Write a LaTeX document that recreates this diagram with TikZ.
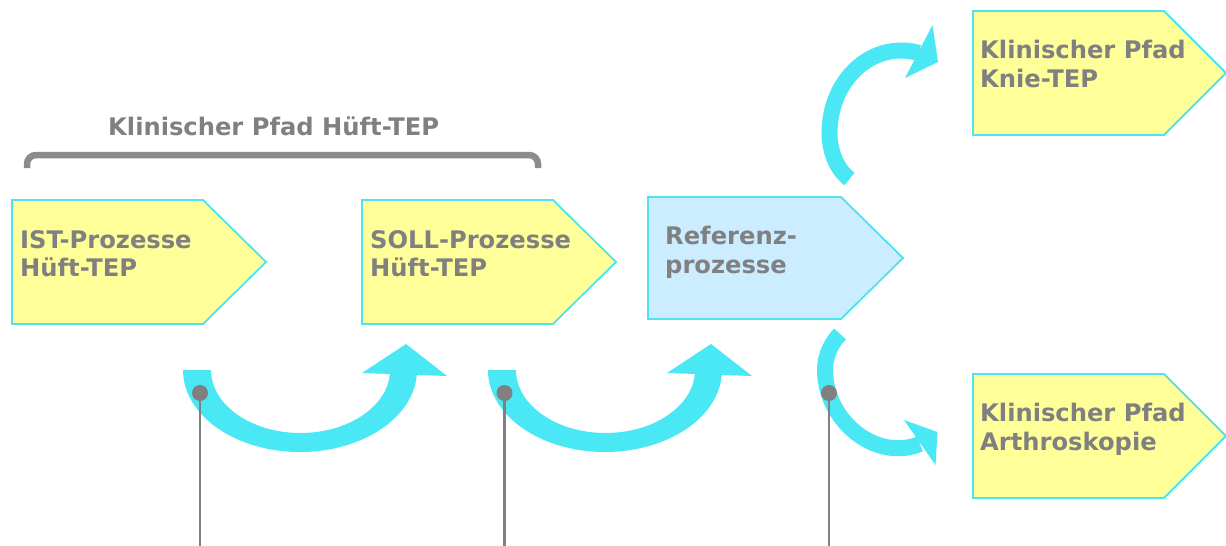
\documentclass[tikz,border=0pt]{standalone}
\usepackage{fontspec}
\setmainfont{DejaVu Sans}
\definecolor{boxline}{HTML}{4DE3F0}
\definecolor{arrowc}{HTML}{4AE8F4}
\definecolor{yel}{HTML}{FFFF99}
\definecolor{blu}{HTML}{CCECFF}
\definecolor{txt}{HTML}{808080}
\definecolor{brk}{HTML}{8C8C8C}
\begin{document}
\begin{tikzpicture}[x=1pt,y=-1pt,
  pbox/.style={draw=boxline,line width=1.8pt,line join=miter},
  lbl/.style={anchor=north west,inner sep=0pt,align=left,text=txt,font=\fontsize{24.2}{28.5}\selectfont\bfseries},
  shaft/.style={draw=arrowc,line width=16pt},
  arrowfill/.style={fill=arrowc},
  pin/.style={draw=txt,line width=2.2pt},
  dot/.style={circle,fill=txt,minimum size=16pt,inner sep=0pt}]
\useasboundingbox (0,0) rectangle (1226,546);
\fill[white] (0,0) rectangle (1226,546);

% process boxes
\path[pbox,fill=yel] (12,200) -- (203,200) -- (266,262) -- (203,324) -- (12,324) -- cycle;
\path[pbox,fill=yel] (362,200) -- (553,200) -- (616,262) -- (553,324) -- (362,324) -- cycle;
\path[pbox,fill=blu] (648,197) -- (841,197) -- (903,258) -- (841,319) -- (648,319) -- cycle;
\path[pbox,fill=yel] (973,11) -- (1164,11) -- (1226,73) -- (1164,135) -- (973,135) -- cycle;
\path[pbox,fill=yel] (973,374) -- (1164,374) -- (1226,436) -- (1164,498) -- (973,498) -- cycle;

% labels
\node[lbl] (ist) at (20,228.3) {\strut IST-Prozesse\\\strut Hüft-TEP};
\node[lbl] (soll) at (370,228.3) {\strut SOLL-Prozesse\\\strut Hüft-TEP};
\node[lbl] (ref) at (665,224.4) {\strut Referenz-\\\strut prozesse};
\node[lbl] (knie) at (980,38.4) {\strut Klinischer Pfad\\\strut Knie-TEP};
\node[lbl] (arth) at (980,401.8) {\strut Klinischer Pfad\\\strut Arthroskopie};
\node[lbl] (title) at (108,115) {\strut Klinischer Pfad Hüft-TEP};

% bracket
\draw[brk,line width=6.5pt,rounded corners=9pt] (27,168) -- (27,155) -- (538,155) -- (538,168);

% bottom curved arrows
\foreach \dx in {0,305}{
\begin{scope}[xshift=\dx pt]
\fill[arrowfill] (183,370) .. controls (183,415.3) and (235.4,452) .. (300,452)
  .. controls (364.6,452) and (417,415.3) .. (417,370) -- (390,370)
  .. controls (390,404.8) and (349.9,433) .. (300.5,433)
  .. controls (251.1,433) and (211,404.8) .. (211,370) -- cycle;
\fill[arrowfill] (362,373) -- (406,344) -- (447,376) -- cycle;
\end{scope}}

% branching arrows
\draw[shaft] (849.5,179) .. controls (836,169) and (829.5,150) .. (829.5,133)
  .. controls (829.5,80) and (872,40) .. (919,53);
\fill[arrowfill] (932.5,25) -- (938,62) -- (905,78) -- cycle;
\draw[shaft] (840,334) .. controls (832,342) and (825,355) .. (825,370)
  .. controls (825,420) and (875,462) .. (920,444);
\fill[arrowfill] (904,420) -- (937.5,432) -- (935.5,465) -- cycle;

% pins
\node[dot] (d1) at (200,393) {};
\node[dot] (d2) at (504.5,393) {};
\node[dot] (d3) at (829,393) {};
\coordinate (e1) at (200,546);
\coordinate (e2) at (504.5,546);
\coordinate (e3) at (829,546);
\draw[pin] (d1.center) -- (e1);
\draw[pin] (d2.center) -- (e2);
\draw[pin] (d3.center) -- (e3);
\end{tikzpicture}
\end{document}
